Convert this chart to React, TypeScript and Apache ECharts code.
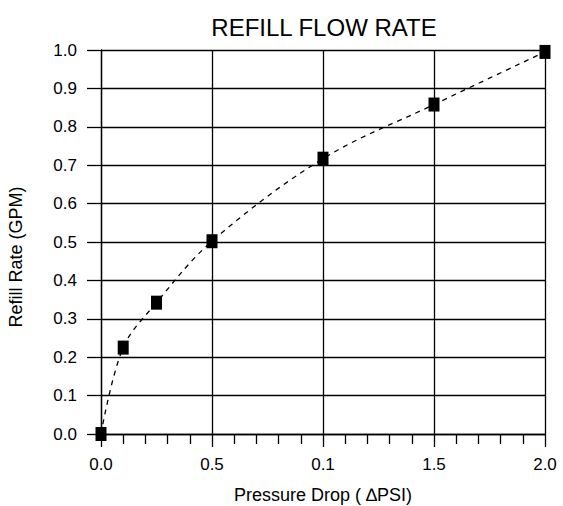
import React, { useEffect, useRef } from "react";
import * as echarts from "echarts";

const titleText = "REFILL FLOW RATE";
const xAxisName = "Pressure Drop ( \u2206PSI)";
const yAxisName = "Refill Rate (GPM)";
const pressureDrop = [0, 0.1, 0.25, 0.5, 1.0, 1.5, 2.0];
const refillRate = [0, 0.225, 0.342, 0.502, 0.717, 0.858, 0.995];
const xTickLabels = ["0.0", "0.5", "0.1", "1.5", "2.0"];

const FONT = "Liberation Sans, Arial, sans-serif";

export default function App() {
  const ref = useRef<HTMLDivElement>(null);
  useEffect(() => {
    if (!ref.current) return;
    const chart = echarts.init(ref.current, undefined, { renderer: "svg" });
    const pts = pressureDrop.map((x, i) => [x, refillRate[i]]);
    chart.setOption({
      animation: false,
      backgroundColor: "#ffffff",
      title: {
        text: titleText,
        left: 319,
        textAlign: "center",
        top: 10,
        textStyle: { fontFamily: FONT, fontSize: 24, fontWeight: "normal", color: "#000" },
      },
      grid: { left: 101, right: 18, top: 50, bottom: 72, containLabel: false, outerBoundsMode: "none" },
      xAxis: {
        type: "value",
        min: 0,
        max: 2,
        interval: 0.5,
        name: xAxisName,
        nameLocation: "middle",
        nameGap: 52,
        nameTextStyle: { fontFamily: FONT, fontSize: 18, color: "#000" },
        axisLine: { show: true, lineStyle: { color: "#000", width: 1.3 } },
        axisTick: { show: true, length: 13, inside: false, lineStyle: { color: "#000", width: 1.3 } },
        minorTick: { show: true, splitNumber: 5, length: 10, lineStyle: { color: "#000", width: 1.3 } },
        splitLine: { show: true, lineStyle: { color: "#000", width: 1.3 } },
        axisLabel: {
          margin: 22,
          fontFamily: FONT,
          fontSize: 17,
          color: "#000",
          formatter: (v: number) => xTickLabels[Math.round(v / 0.5)] ?? "",
        },
      },
      yAxis: {
        type: "value",
        min: 0,
        max: 1,
        interval: 0.1,
        name: yAxisName,
        nameLocation: "middle",
        nameGap: 76,
        nameTextStyle: { fontFamily: FONT, fontSize: 18, color: "#000", padding: [0, 30, 0, 0] },
        axisLine: { show: true, lineStyle: { color: "#000", width: 1.3 } },
        axisTick: { show: true, length: 14, inside: false, lineStyle: { color: "#000", width: 1.3 } },
        splitLine: { show: true, lineStyle: { color: "#000", width: 1.3 } },
        axisLabel: {
          margin: 24,
          fontFamily: FONT,
          fontSize: 17,
          color: "#000",
          formatter: (v: number) => v.toFixed(1),
        },
      },
      series: [
        {
          type: "line",
          data: pts,
          smooth: 0.35,
          showSymbol: false,
          symbol: "none",
          lineStyle: { color: "#000", width: 1.3, type: [5, 5] },
          z: 3,
        },
        {
          type: "scatter",
          data: pts,
          symbol: "rect",
          symbolSize: [11, 14],
          itemStyle: { color: "#000", opacity: 1 },
          clip: false,
          z: 4,
        },
      ],
    });
    return () => chart.dispose();
  }, []);
  return (
    <div
      ref={ref}
      style={{ position: "absolute", left: 0, top: 0, width: 563, height: 506 }}
    />
  );
}
